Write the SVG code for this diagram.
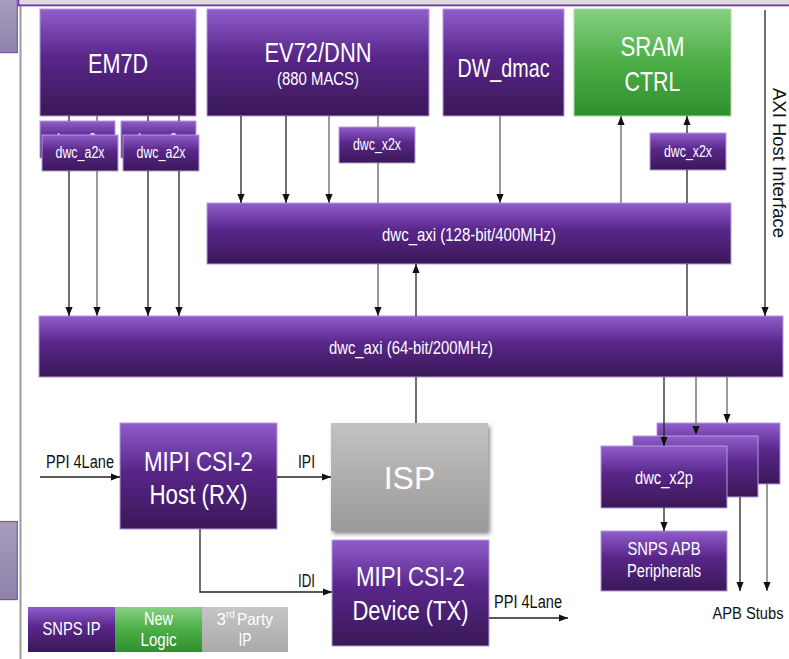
<svg xmlns="http://www.w3.org/2000/svg" width="789" height="659" viewBox="0 0 789 659">
<defs>
<linearGradient id="gp" x1="0" y1="0" x2="0" y2="1">
<stop offset="0" stop-color="#905dcc"/><stop offset="0.45" stop-color="#582689"/><stop offset="1" stop-color="#3a1857"/>
</linearGradient>
<linearGradient id="gg" x1="0" y1="0" x2="0" y2="1">
<stop offset="0" stop-color="#88d083"/><stop offset="0.5" stop-color="#4bae46"/><stop offset="1" stop-color="#318f2e"/>
</linearGradient>
<linearGradient id="gy" x1="0" y1="0" x2="0" y2="1">
<stop offset="0" stop-color="#c3c2c0"/><stop offset="1" stop-color="#9c9a98"/>
</linearGradient>
<linearGradient id="gl" x1="0" y1="0" x2="0" y2="1">
<stop offset="0" stop-color="#c6c6c6"/><stop offset="1" stop-color="#a9a9a9"/>
</linearGradient>
<linearGradient id="gside" x1="0" y1="0" x2="0" y2="1">
<stop offset="0" stop-color="#a79cbf"/><stop offset="1" stop-color="#8f82a9"/>
</linearGradient>
<filter id="sh" x="-10%" y="-10%" width="125%" height="130%">
<feDropShadow dx="2" dy="3" stdDeviation="2" flood-color="#000" flood-opacity="0.45"/>
</filter>
<marker id="ah" viewBox="0 0 10 8" refX="10" refY="4" markerWidth="9" markerHeight="7.2" markerUnits="userSpaceOnUse" orient="auto">
<path d="M0,0 L10,4 L0,8 z" fill="#111"/>
</marker>
<marker id="ahg" viewBox="0 0 10 8" refX="10" refY="4" markerWidth="9" markerHeight="7.2" markerUnits="userSpaceOnUse" orient="auto">
<path d="M0,0 L10,4 L0,8 z" fill="#111"/>
</marker>
</defs>
<style>
.p{fill:url(#gp);stroke:#b59bd8;stroke-width:1}
.g{fill:url(#gg);stroke:#a8dca4;stroke-width:1}
.c{stroke:#222;stroke-width:1.3;fill:none}
.cg{stroke:#777;stroke-width:1.5;fill:none}
.a{marker-end:url(#ah)}
.ag{marker-end:url(#ahg)}
text{font-family:"Liberation Sans",Arial,sans-serif;text-anchor:middle}
.st{text-anchor:start}
.w{fill:#fff}
.k{fill:#111}
.big{font-size:28px}
.m{font-size:18px}
.s{font-size:16px}
</style>

<!-- frame / page edges -->
<g id="frame">
<rect x="18" y="0" width="771" height="5" fill="#dcdcdc"/>
<rect x="18" y="4.5" width="771" height="1.8" fill="#7233a8"/>
<rect x="18" y="0" width="1.3" height="6" fill="#7233a8"/>
<rect x="0" y="0" width="17" height="53" fill="url(#gside)"/>
<line x1="17.3" y1="0" x2="17.3" y2="53" stroke="#7a4fb0" stroke-width="1.2"/>
<line x1="0" y1="52.6" x2="17.5" y2="52.6" stroke="#7a4fb0" stroke-width="1.2"/>
<rect x="0" y="521" width="17" height="79" fill="url(#gside)"/>
<line x1="0" y1="521.5" x2="17.5" y2="521.5" stroke="#7a4fb0" stroke-width="1.2"/>
<line x1="17.3" y1="521" x2="17.3" y2="600" stroke="#7a4fb0" stroke-width="1.2"/>
<line x1="0" y1="599.6" x2="17.5" y2="599.6" stroke="#7a4fb0" stroke-width="1.2"/>
<line x1="20.5" y1="6" x2="20.5" y2="659" stroke="#9a9a9a" stroke-width="2"/>
</g>

<g id="em7d"><rect class="p" x="40" y="9" width="156" height="107"/><text class="w big" x="118" y="73" textLength="60" lengthAdjust="spacingAndGlyphs">EM7D</text></g>
<g id="ev72"><rect class="p" x="207" y="9" width="222" height="107"/><text class="w big" x="318" y="62" textLength="107" lengthAdjust="spacingAndGlyphs">EV72/DNN</text><text class="w m" x="318" y="85" textLength="82" lengthAdjust="spacingAndGlyphs">(880 MACS)</text></g>
<g id="dw_dmac"><rect class="p" x="443" y="9" width="121" height="107"/><text class="w" x="503.5" y="77" style="font-size:25px" textLength="92" lengthAdjust="spacingAndGlyphs">DW_dmac</text></g>
<g id="sram"><rect class="g" x="574" y="9" width="157" height="107"/><text class="w big" x="652.5" y="56" textLength="64" lengthAdjust="spacingAndGlyphs">SRAM</text><text class="w big" x="652.5" y="91" textLength="56" lengthAdjust="spacingAndGlyphs">CTRL</text></g>

<g id="a2x_1"><rect class="p" x="40" y="121" width="75" height="37"/><text class="w s" x="77.5" y="145" textLength="49" lengthAdjust="spacingAndGlyphs">dwc_a2x</text><rect class="p" x="42" y="135" width="76" height="36"/><text class="w s" x="80" y="158" textLength="49" lengthAdjust="spacingAndGlyphs">dwc_a2x</text></g>
<g id="a2x_2"><rect class="p" x="121" y="121" width="75" height="37"/><text class="w s" x="158.5" y="145" textLength="49" lengthAdjust="spacingAndGlyphs">dwc_a2x</text><rect class="p" x="123" y="135" width="76" height="36"/><text class="w s" x="161" y="158" textLength="49" lengthAdjust="spacingAndGlyphs">dwc_a2x</text></g>
<g id="x2x_ev"><rect class="p" x="339" y="127" width="76" height="36"/><text class="w s" x="377" y="150" textLength="48" lengthAdjust="spacingAndGlyphs">dwc_x2x</text></g>
<g id="x2x_sram"><rect class="p" x="650" y="133" width="76" height="37"/><text class="w s" x="688" y="157" textLength="48" lengthAdjust="spacingAndGlyphs">dwc_x2x</text></g>

<g id="axi128"><rect class="p" x="207" y="203" width="524" height="61"/><text class="w m" x="469" y="241" textLength="174" lengthAdjust="spacingAndGlyphs">dwc_axi (128-bit/400MHz)</text></g>
<g id="axi64"><rect class="p" x="39" y="316" width="744" height="61"/><text class="w m" x="411" y="354" textLength="164" lengthAdjust="spacingAndGlyphs">dwc_axi (64-bit/200MHz)</text></g>

<g id="csi_rx"><rect class="p" x="120" y="423" width="157" height="106"/><text class="w big" x="198.5" y="471" textLength="109" lengthAdjust="spacingAndGlyphs">MIPI CSI-2</text><text class="w big" x="198.5" y="504" textLength="98" lengthAdjust="spacingAndGlyphs">Host (RX)</text></g>
<g id="isp"><rect x="331" y="423" width="157" height="108" fill="url(#gy)" filter="url(#sh)"/><text class="w" x="409.5" y="489" style="font-size:32px">ISP</text></g>
<g id="csi_tx"><rect class="p" x="332" y="540" width="157" height="106"/><text class="w big" x="410.5" y="586" textLength="109" lengthAdjust="spacingAndGlyphs">MIPI CSI-2</text><text class="w big" x="410.5" y="620" textLength="116" lengthAdjust="spacingAndGlyphs">Device (TX)</text></g>

<g id="x2p"><rect class="p" x="657" y="423" width="123" height="61"/><rect class="p" x="633" y="436" width="125" height="61"/><rect class="p" x="601" y="446" width="126" height="62"/><text class="w m" x="664" y="484" textLength="58" lengthAdjust="spacingAndGlyphs">dwc_x2p</text></g>
<g id="apb"><rect class="p" x="601" y="531" width="126" height="60"/><text class="w m" x="664" y="555" textLength="73" lengthAdjust="spacingAndGlyphs">SNPS APB</text><text class="w m" x="664" y="577" textLength="74" lengthAdjust="spacingAndGlyphs">Peripherals</text></g>

<g id="legend">
<rect x="28" y="607" width="87" height="45" fill="url(#gp)"/><text class="w m" x="71.5" y="635" textLength="58" lengthAdjust="spacingAndGlyphs">SNPS IP</text>
<rect x="115" y="607" width="87" height="45" fill="url(#gg)"/><text class="w m" x="158.5" y="625" textLength="29" lengthAdjust="spacingAndGlyphs">New</text><text class="w m" x="158.5" y="646" textLength="36" lengthAdjust="spacingAndGlyphs">Logic</text>
<rect x="202" y="607" width="86" height="45" fill="url(#gl)"/>
<text class="w st" x="216.5" y="625" style="font-size:17px">3</text><text class="w st" x="226" y="618" style="font-size:10px">rd</text><text class="w st" x="237" y="625" style="font-size:17px" textLength="36" lengthAdjust="spacingAndGlyphs">Party</text>
<text class="w m" x="245" y="646" textLength="13" lengthAdjust="spacingAndGlyphs">IP</text>
</g>

<g id="connectors">
<line class="c" x1="69" y1="116" x2="69" y2="121"/><line class="c a" x1="69" y1="171" x2="69" y2="316"/>
<line class="cg" x1="97" y1="116" x2="97" y2="121"/><line class="cg ag" x1="97" y1="171" x2="97" y2="316"/>
<line class="c" x1="148" y1="116" x2="148" y2="121"/><line class="c a" x1="148" y1="171" x2="148" y2="316"/>
<line class="c" x1="179" y1="116" x2="179" y2="121"/><line class="c a" x1="179" y1="171" x2="179" y2="316"/>
<line class="c a" x1="241" y1="116" x2="241" y2="203"/>
<line class="c a" x1="286" y1="116" x2="286" y2="203"/>
<line class="cg ag" x1="329" y1="116" x2="329" y2="203"/>
<line class="cg" x1="378" y1="116" x2="378" y2="127"/><line class="cg" x1="378" y1="163" x2="378" y2="203"/><line class="cg ag" x1="378" y1="264" x2="378" y2="316"/>
<line class="cg ag" x1="500" y1="116" x2="500" y2="203"/>
<line class="cg ag" x1="621" y1="203" x2="621" y2="116"/>
<line class="c a" x1="687" y1="133" x2="687" y2="116"/><line class="c" x1="687" y1="170" x2="687" y2="203"/><line class="c" x1="687" y1="264" x2="687" y2="316"/>
<line class="c a" x1="765" y1="10" x2="765" y2="316"/>
<line class="c a" x1="416" y1="316" x2="416" y2="264"/><line class="c" x1="416" y1="377" x2="416" y2="423"/>
<line class="c a" x1="664" y1="377" x2="664" y2="446"/>
<line class="cg ag" x1="696" y1="377" x2="696" y2="435"/>
<line class="cg ag" x1="727" y1="377" x2="727" y2="423"/>
<line class="c a" x1="664" y1="508" x2="664" y2="531"/>
<line class="c a" x1="740" y1="497" x2="740" y2="591"/>
<line class="cg ag" x1="767" y1="484" x2="767" y2="591"/>
<line class="c a" x1="40" y1="477" x2="120" y2="477"/>
<line class="c a" x1="277" y1="477" x2="331" y2="477"/>
<polyline class="c a" points="200,529 200,592 332,592"/>
<line class="c a" x1="489" y1="618" x2="568" y2="618"/>
</g>

<g id="labels">
<text class="k m" x="80" y="468" textLength="68" lengthAdjust="spacingAndGlyphs">PPI 4Lane</text>
<text class="k m" x="306.5" y="468" textLength="17" lengthAdjust="spacingAndGlyphs">IPI</text>
<text class="k m" x="306.5" y="587" textLength="17" lengthAdjust="spacingAndGlyphs">IDI</text>
<text class="k m" x="528" y="608" textLength="68" lengthAdjust="spacingAndGlyphs">PPI 4Lane</text>
<text class="k" x="748" y="619" style="font-size:16px" textLength="71" lengthAdjust="spacingAndGlyphs">APB Stubs</text>
<text class="k" transform="translate(773,163) rotate(90)" style="font-size:18px" textLength="150" lengthAdjust="spacingAndGlyphs">AXI Host Interface</text>
</g>
</svg>
